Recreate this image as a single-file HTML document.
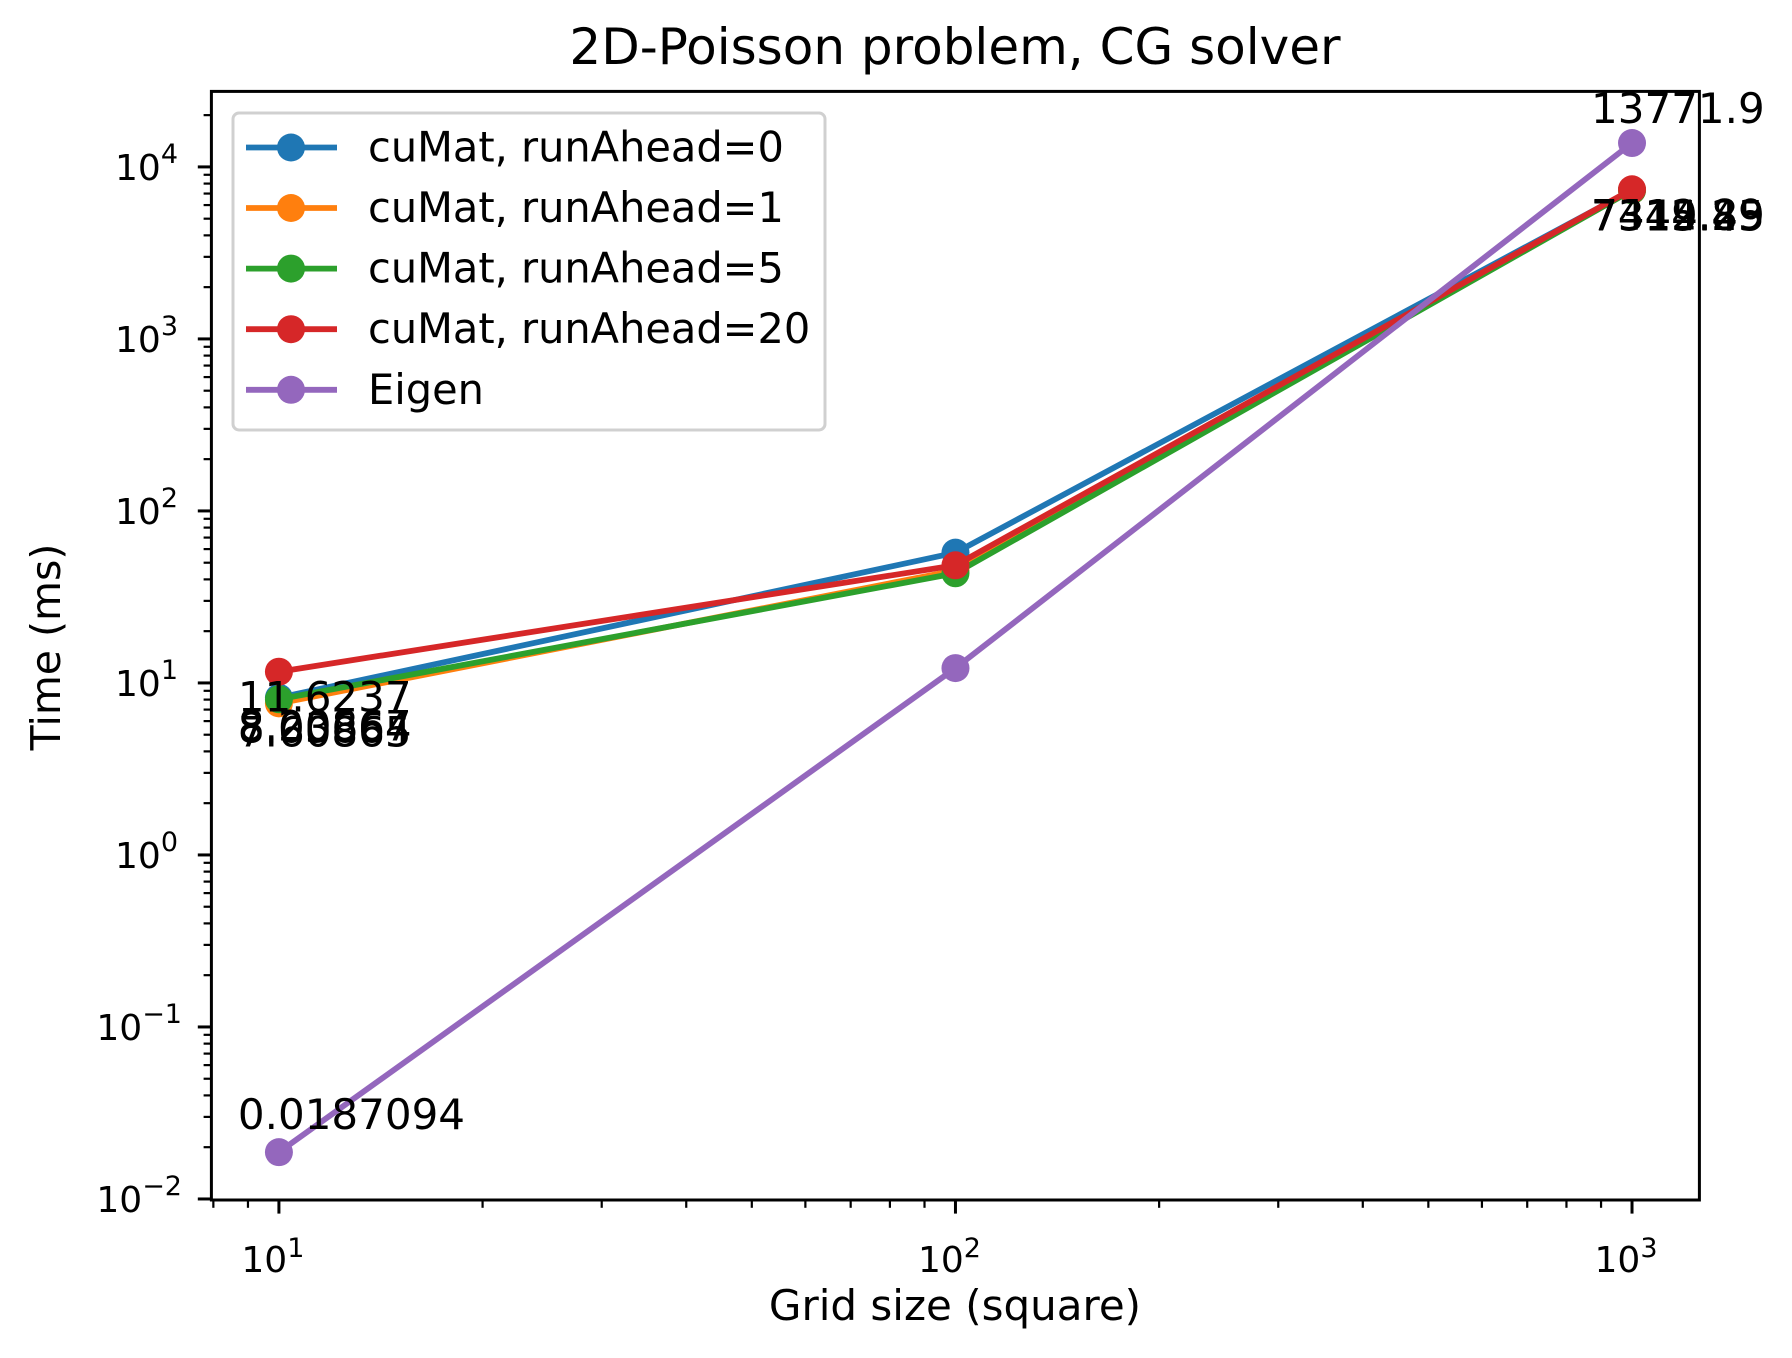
<!DOCTYPE html>
<html><head><meta charset="utf-8">
<style>
html,body{margin:0;padding:0;background:#fff;}
svg{display:block;font-family:"DejaVu Sans","Liberation Sans",sans-serif;}
</style></head>
<body>
<svg id="chart" width="1792" height="1358" viewBox="0 0 1792 1358" xmlns="http://www.w3.org/2000/svg"></svg>
<script>
const xValues = [10, 100, 1000];
const seriesNames = ["cuMat, runAhead=0", "cuMat, runAhead=1", "cuMat, runAhead=5", "cuMat, runAhead=20", "Eigen"];
const seriesColors = ["#1f77b4", "#ff7f0e", "#2ca02c", "#d62728", "#9467bd"];
const cuMat0 = [8.20867, 57.2, 7344.29];
const cuMat1 = [7.60865, 45.1, 7319.83];
const cuMat5 = [8.03664, 43.4, 7315.45];
const cuMat20 = [11.6237, 48.3, 7412.89];
const eigen = [0.0187094, 12.2, 13771.9];
const xTicks = [1, 2, 3];
const yTicks = [-2, -1, 0, 1, 2, 3, 4];

const svg = document.getElementById('chart');
const NS = "http://www.w3.org/2000/svg";
const L = 211.4, R = 1699.4, T = 91.4, B = 1200;
const xMin = 0.9002, xMax = 3.0996, yMin = -2.006, yMax = 4.439;
function sx(v){ return L + (Math.log10(v) - xMin) / (xMax - xMin) * (R - L); }
function sy(v){ return B - (Math.log10(v) - yMin) / (yMax - yMin) * (B - T); }
function mk(tag, attrs, parent){ const e = document.createElementNS(NS, tag); for (const k in attrs) e.setAttribute(k, attrs[k]); (parent || svg).appendChild(e); return e; }

// title
let t = mk('text', {x: 955, y: 64, 'font-size': 50, 'text-anchor': 'middle', fill: '#000'});


t.textContent = "2D-Poisson problem, CG solver";

// x ticks
const xg = mk('g', {});


for (let d = 0; d <= 4; d++) {
  for (let m = 1; m <= 9; m++) {
    const v = m * Math.pow(10, d);
    const lv = Math.log10(v);
    if (lv < xMin || lv > xMax) continue;
    const x = sx(v);
    mk('line', {x1: x, x2: x, y1: B, y2: B + (m === 1 ? 13.6 : 7.8), stroke: '#000', 'stroke-width': m === 1 ? 3 : 2.2}, xg);
  }
}
xTicks.forEach(p => {
  const x = sx(Math.pow(10, p));
  const tx = mk('text', {x: x - 6, y: 1272, 'font-size': 36, 'text-anchor': 'middle'}, xg);
  
  
  tx.innerHTML = '10<tspan font-size="27" dy="-15">' + p + '</tspan>';
});
let xl = mk('text', {x: 955, y: 1320, 'font-size': 42, 'text-anchor': 'middle'});


xl.textContent = "Grid size (square)";

// y ticks
const yg = mk('g', {});


for (let d = -3; d <= 4; d++) {
  for (let m = 1; m <= 9; m++) {
    const v = m * Math.pow(10, d);
    const lv = Math.log10(v);
    if (lv < yMin || lv > yMax) continue;
    const y = sy(v);
    mk('line', {x1: L, x2: L - (m === 1 ? 13.6 : 7.8), y1: y, y2: y, stroke: '#000', 'stroke-width': m === 1 ? 3 : 2.2}, yg);
  }
}
yTicks.forEach(p => {
  const y = sy(Math.pow(10, p));
  const neg = p < 0;
  const tx = mk('text', {x: neg ? 182 : 178, y: y + 13, 'font-size': 36, 'text-anchor': 'end'}, yg);
  
  
  tx.innerHTML = '10<tspan font-size="27" dy="-17">' + (neg ? '\u2212' + (-p) : p) + '</tspan>';
});
let yl = mk('text', {x: 0, y: 0, 'font-size': 41, 'text-anchor': 'middle', transform: 'translate(60,647) rotate(-90)'});


yl.textContent = "Time (ms)";

// series
const allSeries = [cuMat0, cuMat1, cuMat5, cuMat20, eigen];
const seriesKeys = ['cumat-runahead-0', 'cumat-runahead-1', 'cumat-runahead-5', 'cumat-runahead-20', 'eigen'];
allSeries.forEach((s, i) => {
  const g = mk('g', {});
  
  
  const pts = s.map((v, j) => sx(xValues[j]) + ',' + sy(v)).join(' ');
  const pl = mk('polyline', {points: pts, fill: 'none', stroke: seriesColors[i], 'stroke-width': 5.8, 'stroke-linejoin': 'round'}, g);
  
  
  s.forEach((v, j) => {
    const c = mk('circle', {cx: sx(xValues[j]), cy: sy(v), r: 14, fill: seriesColors[i]}, g);
    
    
  });
});

// annotations
allSeries.forEach((s, i) => {
  s.forEach((v, j) => {
    if (j === 1) return;
    let x = sx(xValues[j]), y = sy(v), dy;
    if (i === 4) dy = (j === 0 ? -23 : -20);
    else if (j === 0) dy = (i === 3 ? 40 : 43);
    else dy = 40;
    const a = mk('text', {x: x - 41, y: y + dy, 'font-size': 42, 'text-anchor': 'start'});
    
    
    a.textContent = String(v);
  });
});

// axes frame
const fr = mk('rect', {x: L, y: T, width: R - L, height: B - T, fill: 'none', stroke: '#000', 'stroke-width': 3});



// legend
const lg = mk('g', {});


mk('rect', {x: 233, y: 113, width: 592, height: 317, rx: 6, fill: 'rgba(255,255,255,0.8)', stroke: '#d0d0d0', 'stroke-width': 3}, lg);
const rowY = [147.5, 208, 268.6, 329.2, 389.8];
seriesNames.forEach((n, i) => {
  const e = mk('g', {}, lg);
  
  
  mk('line', {x1: 246, x2: 337, y1: rowY[i], y2: rowY[i], stroke: seriesColors[i], 'stroke-width': 5.8}, e);
  mk('circle', {cx: 291, cy: rowY[i], r: 14, fill: seriesColors[i]}, e);
  const tx = mk('text', {x: 368, y: rowY[i] + 14, 'font-size': 41.5}, e);
  tx.textContent = n;
});
</script>
</body></html>
